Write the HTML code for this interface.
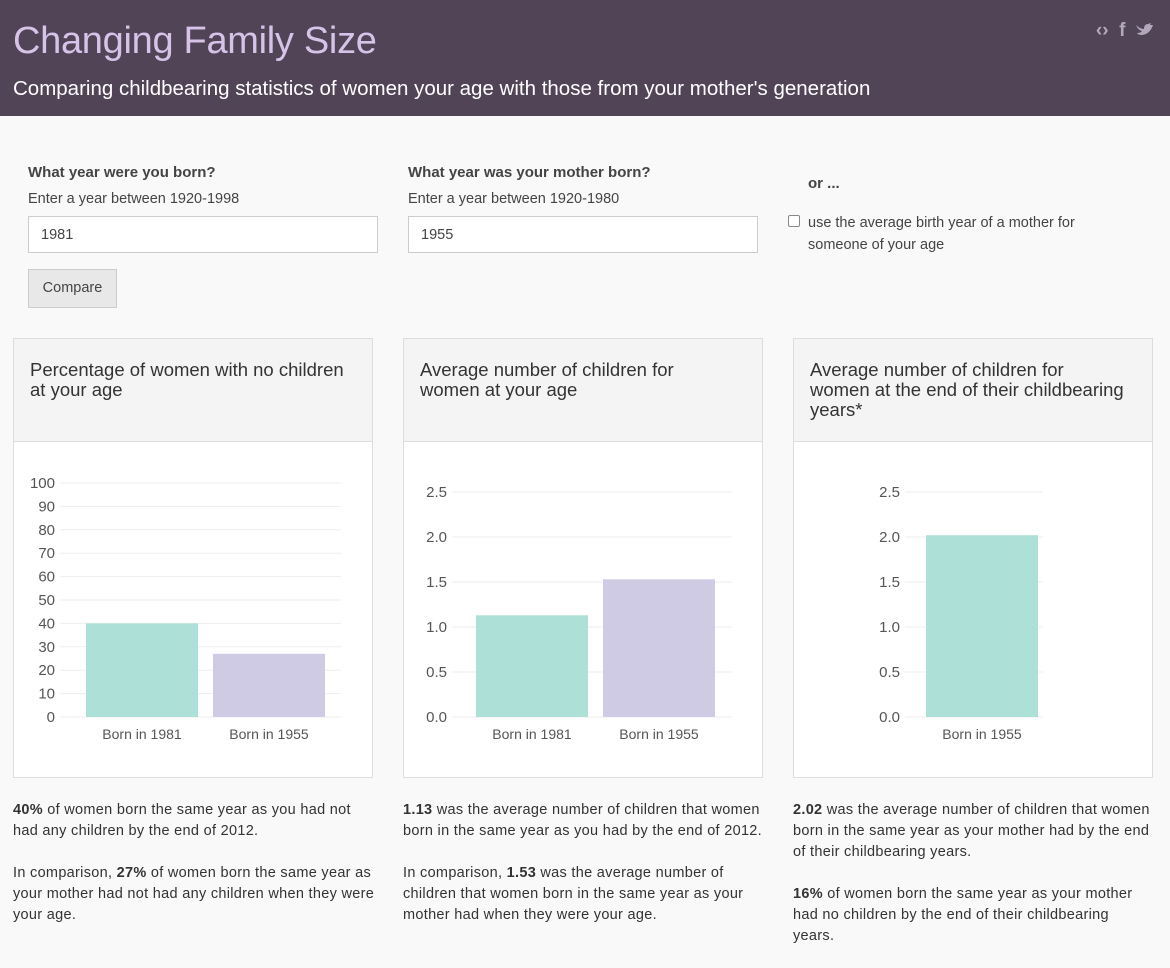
<!DOCTYPE html>
<html><head><meta charset="utf-8">
<style>
body{margin:0;width:1170px;height:957px;overflow:hidden;background:#f9f9f9;font-family:"Liberation Sans",sans-serif;color:#444;position:relative}
.hdr{position:absolute;left:0;top:0;width:1170px;height:116px;background:#514457}
.title{position:absolute;left:13px;top:20px;font-size:38px;color:#d7c2e8;letter-spacing:-0.3px}
.sub{position:absolute;left:13px;top:77px;font-size:20.5px;color:#fff}
.icons{position:absolute;right:16px;top:20px;color:#b3a8bb;font-size:19px;font-weight:bold}
.lbl{position:absolute;font-size:15px;font-weight:bold;color:#444}
.hint{position:absolute;font-size:14.5px;color:#444}
.inp{position:absolute;height:37px;width:350px;border:1px solid #ccc;background:#fff;box-sizing:border-box;padding:10px 12px;font-size:14.5px}
.btn{position:absolute;left:28px;top:269px;width:89px;height:39px;box-sizing:border-box;border:1px solid #ccc;background:#e8e8e8;font-size:14.5px;text-align:center;line-height:37px}
.panel{position:absolute;top:338px;width:360px;height:440px;border:1px solid #ddd;background:#fff;box-sizing:border-box}
.ph{height:103px;background:#f4f4f4;border-bottom:1px solid #ddd;padding:21px 6px 0 16px;box-sizing:border-box;font-size:18.5px;line-height:20px;color:#333}
.txt{position:absolute;top:800px;width:365px;font-size:14.5px;line-height:21px;color:#333;letter-spacing:0.3px}
.txt p{margin:0 0 21px}
svg{position:absolute;left:0;top:0}
</style></head><body>
<div class="hdr">
<div class="title">Changing Family Size</div>
<div class="sub">Comparing childbearing statistics of women your age with those from your mother's generation</div>
<div class="icons"><span>‹›</span>&nbsp; <span>f</span>&nbsp; <span><svg width="18" height="15" viewBox="0 0 18 15" style="position:relative;top:1px"><path d="M0 3 Q4 7 8 7 Q8 2 12 2 L15 1 L14 3 L17 3 Q14 12 6 13 Q2 13 1 11 Q5 11 6 9 Q2 8 0 3Z" fill="#b3a8bb"/></svg></span></div>
</div>
<div class="lbl" style="left:28px;top:164px">What year were you born?</div>
<div class="hint" style="left:28px;top:191px">Enter a year between 1920-1998</div>
<div class="inp" style="left:28px;top:216px">1981</div>
<div class="lbl" style="left:408px;top:164px">What year was your mother born?</div>
<div class="hint" style="left:408px;top:191px">Enter a year between 1920-1980</div>
<div class="inp" style="left:408px;top:216px">1955</div>
<div class="lbl" style="left:808px;top:175px">or ...</div>
<div style="position:absolute;left:788px;top:215px;width:10px;height:10px;border:1px solid #888;background:#fff;border-radius:2px"></div>
<div class="hint" style="left:808px;top:212px;line-height:22px;width:320px">use the average birth year of a mother for someone of your age</div>
<div class="btn">Compare</div>

<div class="panel" style="left:13px"><div class="ph">Percentage of women with no children<br>at your age</div></div>
<div class="panel" style="left:403px"><div class="ph">Average number of children for<br>women at your age</div></div>
<div class="panel" style="left:793px"><div class="ph">Average number of children for<br>women at the end of their childbearing years*</div></div>

<svg id="charts" width="1170" height="957"></svg>

<div class="txt" style="left:13px"><p><b>40%</b> of women born the same year as you had not had any children by the end of 2012.</p><p>In comparison, <b>27%</b> of women born the same year as your mother had not had any children when they were your age.</p></div>
<div class="txt" style="left:403px"><p><b>1.13</b> was the average number of children that women born in the same year as you had by the end of 2012.</p><p>In comparison, <b>1.53</b> was the average number of children that women born in the same year as your mother had when they were your age.</p></div>
<div class="txt" style="left:793px"><p><b>2.02</b> was the average number of children that women born in the same year as your mother had by the end of their childbearing years.</p><p><b>16%</b> of women born the same year as your mother had no children by the end of their childbearing<br>years.</p></div>

<script>
const c1Categories=["Born in 1981","Born in 1955"];
const c1Values=[40,27];
const c1Ticks=["0","10","20","30","40","50","60","70","80","90","100"];
const c2Categories=["Born in 1981","Born in 1955"];
const c2Values=[1.13,1.53];
const c2Ticks=["0.0","0.5","1.0","1.5","2.0","2.5"];
const c3Categories=["Born in 1955"];
const c3Values=[2.02];
const c3Ticks=["0.0","0.5","1.0","1.5","2.0","2.5"];
const colors=["#ade0d6","#cfcbe4"];
const svg=document.getElementById('charts');
const NS="http://www.w3.org/2000/svg";
function mk(t,a){const e=document.createElementNS(NS,t);for(const k in a)e.setAttribute(k,a[k]);svg.appendChild(e);return e;}
function chart(id,cats,vals,ticks,gx0,gx1,barX,max,yTop){
  const y0=717;
  const yS=v=>y0-(v/max)*(y0-yTop);
  ticks.forEach(t=>{
    const y=yS(parseFloat(t));
    const l=mk('line',{x1:gx0,x2:gx1,y1:y,y2:y,stroke:'#eeeeee','stroke-width':1});
    
    
    const tx=mk('text',{x:gx0-5,y:y+5,'text-anchor':'end','font-size':15,fill:'#555','font-family':'Liberation Sans, sans-serif'});
    tx.textContent=t;
    
    
  });
  cats.forEach((c,i)=>{
    const x=barX+i*127;
    const r=mk('rect',{x:x,y:yS(vals[i]),width:112,height:y0-yS(vals[i]),fill:colors[i]});
    
    
    const tx=mk('text',{x:x+56,y:739,'text-anchor':'middle','font-size':14,fill:'#555','font-family':'Liberation Sans, sans-serif'});
    tx.textContent=c;
    
    
  });
}
chart('chart1',c1Categories,c1Values,c1Ticks,60,341,86,100,483);
chart('chart2',c2Categories,c2Values,c2Ticks,452,732,476,2.5,492);
chart('chart3',c3Categories,c3Values,c3Ticks,905,1043,926,2.5,492);
</script>
</body></html>
